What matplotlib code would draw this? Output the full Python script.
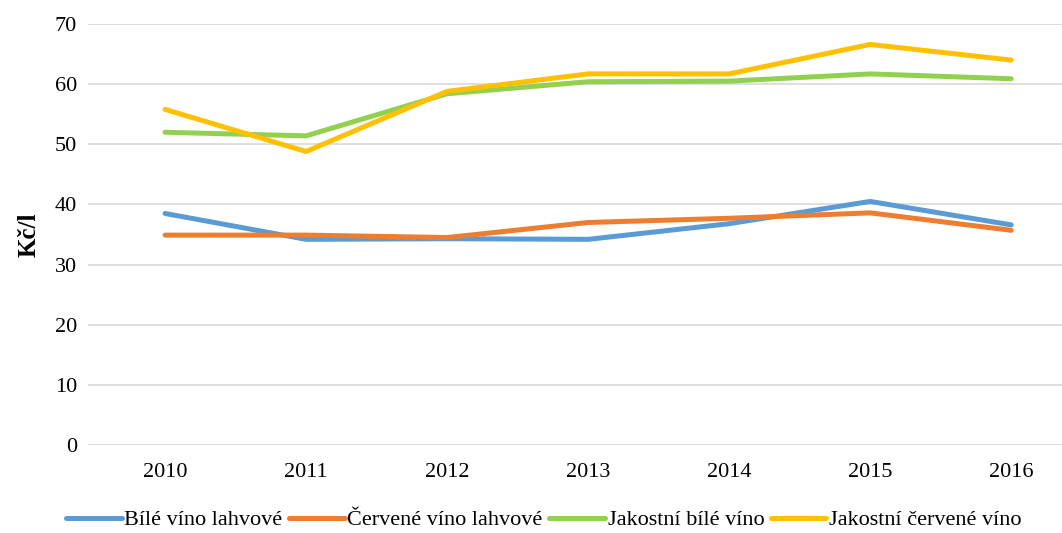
import matplotlib.pyplot as plt

plt.rcParams['font.family'] = ['Liberation Serif', 'DejaVu Serif']

years = ['2010', '2011', '2012', '2013', '2014', '2015', '2016']
bile_lahvove = [38.5, 34.2, 34.3, 34.2, 36.8, 40.5, 36.6]
cervene_lahvove = [34.9, 34.9, 34.5, 37.0, 37.7, 38.6, 35.7]
jakostni_bile = [52.0, 51.4, 58.4, 60.4, 60.5, 61.7, 60.9]
jakostni_cervene = [55.8, 48.8, 58.8, 61.7, 61.7, 66.6, 64.0]

series = [
    ('Bílé víno lahvové', bile_lahvove, '#5B9BD5'),
    ('Červené víno lahvové', cervene_lahvove, '#ED7D31'),
    ('Jakostní bílé víno', jakostni_bile, '#92D050'),
    ('Jakostní červené víno', jakostni_cervene, '#FFC000'),
]

fig = plt.figure(figsize=(10.62, 5.33), dpi=100)
ax = fig.add_axes([0.0829, 0.165, 0.9171, 0.79])

x = range(len(years))
for name, vals, col in series:
    ax.plot(x, vals, color=col, lw=3.6, label=name, solid_capstyle='round')

ax.set_ylim(0, 70)
ax.set_yticks(range(0, 71, 10))
ax.set_xlim(-0.546, 6.36)
ax.set_xticks(list(x))
ax.set_xticklabels(years)
ax.grid(axis='y', color='#D9D9D9', lw=1.2)
ax.set_axisbelow(True)
for s in ax.spines.values():
    s.set_visible(False)
ax.tick_params(length=0, labelsize=16, pad=8)
ax.tick_params(axis='x', pad=13)
ax.set_ylabel('Kč/l', fontsize=18, fontweight='bold', labelpad=10)

ax.legend(loc='center', bbox_to_anchor=(0.468, -0.178), ncol=4, frameon=False,
          fontsize=16, handlelength=2.5, handletextpad=0.12, columnspacing=0.3,
          borderpad=0.1)

plt.savefig('out.png', dpi=100)
